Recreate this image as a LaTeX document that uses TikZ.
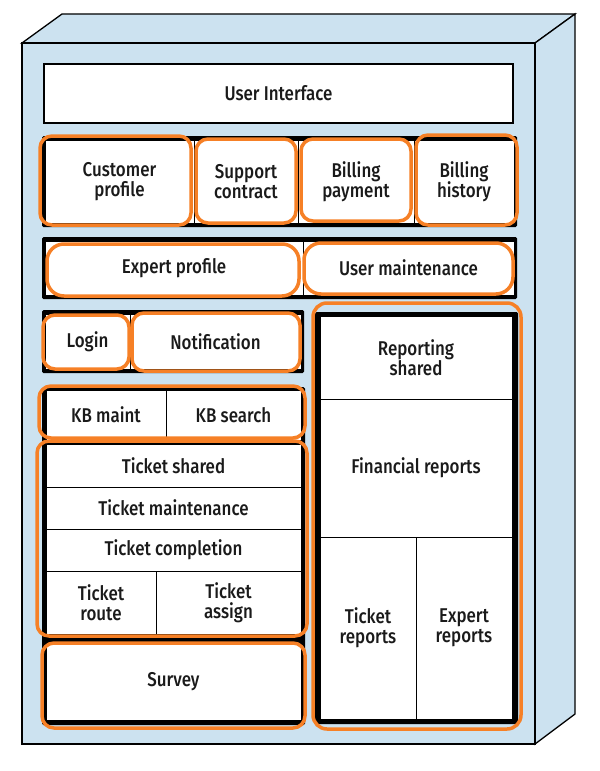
\documentclass[tikz,border=0pt]{standalone}
\usepackage{fontspec}
\setmainfont{Fira Sans Medium}[FakeStretch=0.85]
\definecolor{boxblue}{RGB}{204,226,240}
\definecolor{ringorange}{RGB}{246,128,38}
\definecolor{inkgray}{RGB}{26,26,26}

\def \frontL{22}
\def \frontR{535}
\def \frontT{43}
\def \frontB{744}
\def \backR{575}
\def \backL{62}
\def \backT{14}
\def \backB{714}

\begin{document}
\begin{tikzpicture}[x=1bp, y=-1bp,
  face/.style={draw=black, line width=1.3bp, fill=boxblue, line join=miter},
  band/.style={fill=black, rounded corners=1.5bp},
  cell/.style={draw=black, line width=0.9bp, fill=white},
  txt/.style={font=\fontsize{20}{20.5}\selectfont, align=center, text=inkgray},
  ring/.style={draw=ringorange, line width=3.5bp, rounded corners=12bp},
  oval/.style={ring, rounded corners=17bp}]
\useasboundingbox (0,0) rectangle (600,771);

% ---- Container box
\filldraw[face] (\frontL, \frontT) -- (\backL, \backT) -- (\backR, \backT) -- (\frontR, \frontT) -- cycle;
\filldraw[face] (\frontR, \frontT) -- (\backR, \backT) -- (\backR, \backB) -- (\frontR, \frontB) -- cycle;
\filldraw[face] (\frontL, \frontT) rectangle (\frontR, \frontB);

% ---- User interface
\filldraw[cell, line width=1.2bp] (44, 64) rectangle (513, 123) node[pos=.5, txt] (ui) {User Interface};

% ---- Row: customer and billing
\fill[band] (42, 136) rectangle (517, 227);
\filldraw[cell] (45, 140) rectangle (194, 223) node[pos=.5, txt] (customer) {Customer\\profile};
\filldraw[cell] (194, 140) rectangle (298, 223) node[pos=.5, txt] (contract) {Support\\contract};
\filldraw[cell] (298, 140) rectangle (414, 223) node[pos=.5, txt] (payment) {Billing\\payment};
\filldraw[cell] (414, 140) rectangle (514, 223) node[pos=.5, txt] (history) {Billing\\history};

% ---- Row: expert and user
\fill[band] (42, 237) rectangle (517, 299);
\filldraw[cell] (45, 241) rectangle (303, 295) node[pos=.5, txt] (expert) {Expert profile};
\filldraw[cell] (303, 241) rectangle (514, 295) node[pos=.5, txt] (usermaint) {User maintenance};

% ---- Row: login and notification
\fill[band] (42, 310) rectangle (304, 373);
\filldraw[cell] (45, 314) rectangle (130, 369) node[pos=.5, txt] (login) {Login};
\filldraw[cell] (130, 314) rectangle (301, 369) node[pos=.5, txt] (notify) {Notification};

% ---- Left column: KB, tickets, survey
\fill[band] (42, 387) rectangle (305, 725);
\filldraw[cell] (46, 390) rectangle (166, 440) node[pos=.5, txt] (kbmaint) {KB maint};
\filldraw[cell] (166, 390) rectangle (301, 440) node[pos=.5, txt] (kbsearch) {KB search};
\filldraw[cell] (46, 444) rectangle (301, 487) node[pos=.5, txt] (tshared) {Ticket shared};
\filldraw[cell] (46, 487) rectangle (301, 529) node[pos=.5, txt] (tmaint) {Ticket maintenance};
\filldraw[cell] (46, 529) rectangle (301, 571) node[pos=.5, txt] (tcompl) {Ticket completion};
\filldraw[cell] (46, 571) rectangle (156, 634) node[pos=.5, txt] (troute) {Ticket\\route};
\filldraw[cell] (156, 571) rectangle (301, 634) node[pos=.5, txt] (tassign) {Ticket\\assign};
\filldraw[cell] (46, 644) rectangle (301, 720) node[pos=.5, txt] (survey) {Survey};

% ---- Right column: reporting
\fill[band] (315, 312) rectangle (518, 724);
\filldraw[cell] (320, 316) rectangle (512, 399) node[pos=.5, txt] (rshared) {Reporting\\shared};
\filldraw[cell] (320, 399) rectangle (512, 537) node[pos=.5, txt] (financial) {Financial reports};
\filldraw[cell] (320, 537) rectangle (416, 719) node[pos=.5, txt] (treports) {Ticket\\reports};
\filldraw[cell] (416, 537) rectangle (512, 719) node[pos=.5, txt] (ereports) {Expert\\reports};

% ---- Orange outlines
\draw[ring] (40, 136) rectangle (191, 225);
\draw[ring] (196, 139) rectangle (296, 223);
\draw[ring] (301, 139) rectangle (411, 221);
\draw[ring] (416, 135) rectangle (517, 225);
\draw[oval] (47, 244) rectangle (299, 296);
\draw[oval] (304, 243) rectangle (513, 294);
\draw[ring] (43, 315) rectangle (129, 369);
\draw[ring] (132, 313) rectangle (300, 371);
\draw[ring] (39, 386) rectangle (305, 438);
\draw[ring] (37, 441) rectangle (307, 636);
\draw[ring] (42, 643) rectangle (305, 728);
\draw[ring, rounded corners=14bp] (313, 303) rectangle (521, 729);
\end{tikzpicture}
\end{document}
